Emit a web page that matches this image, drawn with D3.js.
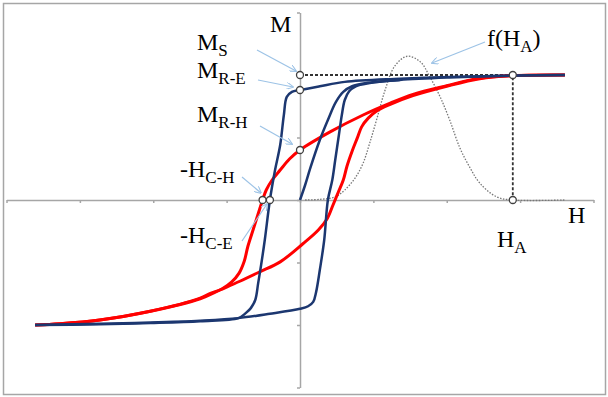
<!DOCTYPE html>
<html>
<head>
<meta charset="utf-8">
<script src="https://cdnjs.cloudflare.com/ajax/libs/d3/7.8.5/d3.min.js"></script>
<style>
  body { margin: 0; background: #fff; }
  text { font-family: 'Liberation Serif', 'DejaVu Serif', serif; fill: #000; }
</style>
</head>
<body>
<div id="viz"></div>
<script>
/*
 * Datos (H, M)
 */
var ticksH = [-4, -3, -2, -1, 0, 1, 2, 3, 4];
var ticksM = [-3, -2, -1, 0, 1, 2, 3];

//Ciclo facil (azul), rama descendente
var azulBajaH = [3.61, 2.90, 2.04, 1.36, 0.61, 0.27, 0, -0.11, -0.18, -0.22, -0.27, -0.34, -0.41, -0.48, -0.53, -0.57, -0.61, -0.67, -0.74, -0.84, -1.36, -2.04, -2.73, -3.61];
var azulBajaM = [2.0, 1.99, 1.97, 1.94, 1.89, 1.82, 1.76, 1.73, 1.65, 1.36, 0.88, 0.48, 0, -0.64, -1.04, -1.33, -1.6, -1.73, -1.81, -1.89, -1.94, -1.97, -1.99, -2.0];
//Ciclo facil (azul), rama ascendente
var azulSubeH = [-3.61, -2.73, -2.04, -1.36, -0.84, -0.41, 0, 0.11, 0.18, 0.22, 0.27, 0.33, 0.38, 0.44, 0.48, 0.53, 0.57, 0.61, 0.67, 0.76, 0.95, 1.36, 2.04, 2.90, 3.61];
var azulSubeM = [-2.0, -1.98, -1.96, -1.93, -1.89, -1.82, -1.74, -1.70, -1.63, -1.47, -1.12, -0.64, 0, 0.32, 0.64, 1.04, 1.36, 1.6, 1.74, 1.82, 1.87, 1.92, 1.96, 1.99, 2.0];
//Curva inicial (azul)
var azulInicialH = [0, 0.07, 0.14, 0.27, 0.38, 0.49, 0.59, 0.71, 0.89, 1.36];
var azulInicialM = [0, 0.24, 0.51, 0.96, 1.28, 1.57, 1.73, 1.82, 1.87, 1.92];

//Ciclo dificil (rojo), rama descendente
var rojoBajaH = [3.61, 2.90, 2.45, 2.0, 1.54, 1.23, 0.86, 0.41, 0, -0.14, -0.27, -0.38, -0.46, -0.51, -0.57, -0.64, -0.71, -0.76, -0.83, -0.93, -1.06, -1.23, -1.36, -2.04, -2.73, -3.27, -3.61];
var rojoBajaM = [2.0, 1.99, 1.95, 1.83, 1.69, 1.55, 1.36, 1.09, 0.8, 0.66, 0.48, 0.32, 0.16, 0, -0.22, -0.48, -0.74, -0.98, -1.17, -1.31, -1.42, -1.50, -1.57, -1.78, -1.92, -1.98, -2.0];
//Ciclo dificil (rojo), rama ascendente
var rojoSubeH = [-3.61, -3.27, -2.73, -2.04, -1.36, -1.09, -0.82, -0.55, -0.27, 0.04, 0.25, 0.37, 0.45, 0.52, 0.59, 0.64, 0.71, 0.78, 0.84, 0.93, 1.04, 1.23, 1.54, 2.0, 2.45, 2.90, 3.61];
var rojoSubeM = [-2.0, -1.98, -1.92, -1.78, -1.58, -1.44, -1.30, -1.15, -0.99, -0.70, -0.48, -0.30, -0.08, 0.12, 0.32, 0.54, 0.78, 0.99, 1.17, 1.31, 1.42, 1.53, 1.67, 1.82, 1.94, 1.99, 2.0];

//Distribucion f(HA) (punteada)
var distH = [0.07, 0.27, 0.48, 0.61, 0.75, 0.86, 0.95, 1.05, 1.16, 1.29, 1.46, 1.64, 1.77, 1.91, 2.04, 2.18, 2.32, 2.45, 2.68, 2.90, 3.61];
var distM = [0, 0.01, 0.05, 0.16, 0.35, 0.59, 0.91, 1.31, 1.76, 2.14, 2.30, 2.21, 1.97, 1.65, 1.28, 0.83, 0.51, 0.27, 0.05, 0, 0];

//Puntos marcados
var Ms = 2.0, MrE = 1.76, MrH = 0.8, HcH = -0.51, HcE = -0.41, HA = 2.90;

/*
 * Configuracion
 */
var width = 608, height = 397;

var svg = d3.select('#viz')
  .append('svg')
  .attr('width', width)
  .attr('height', height);

var x = d3.scaleLinear().domain([-4, 4]).range([6.5, 593.5]);
var y = d3.scaleLinear().domain([-3, 3]).range([387.5, 12.5]);

var defs = svg.append('defs');
defs.append('marker')
  .attr('id', 'flecha')
  .attr('viewBox', '0 0 10 10')
  .attr('refX', 9)
  .attr('refY', 5)
  .attr('markerWidth', 7)
  .attr('markerHeight', 7)
  .attr('markerUnits', 'userSpaceOnUse')
  .attr('orient', 'auto')
  .append('path')
  .attr('d', 'M0,0 L10,5 L0,10')
  .style('fill', 'none')
  .style('stroke', '#9dc3e6')
  .style('stroke-width', 1.5);

//Borde exterior
svg.append('rect')
  .attr('x', 3.5)
  .attr('y', 3.5)
  .attr('width', 602)
  .attr('height', 391)
  .style('fill', 'none')
  .style('stroke', '#a6a6a6')
  .style('stroke-width', 1.5);

//Ejes
var ejeH = svg.append('g')
  .attr('transform', 'translate(0,' + y(0) + ')')
  .call(d3.axisBottom(x).tickValues(ticksH).tickFormat('').tickSize(3).tickSizeOuter(0));
var ejeM = svg.append('g')
  .attr('transform', 'translate(' + x(0) + ',0)')
  .call(d3.axisLeft(y).tickValues(ticksM).tickFormat('').tickSize(3).tickSizeOuter(0));
svg.selectAll('.domain, .tick line')
  .style('stroke', '#a6a6a6')
  .style('stroke-width', 1.5);

function zip(hs, ms) {
  return hs.map(function(h, i) { return [h, ms[i]]; });
}

var linea = d3.line()
  .x(function(d) { return x(d[0]); })
  .y(function(d) { return y(d[1]); })
  .curve(d3.curveCatmullRom.alpha(0.5));

//Lineas de referencia (guiones)
svg.append('path')
  .attr('d', d3.line()([[x(0), y(Ms)], [x(HA), y(Ms)], [x(HA), y(0)]]))
  .style('fill', 'none')
  .style('stroke', '#333')
  .style('stroke-width', 1.8)
  .style('stroke-dasharray', '3,2');

//Distribucion punteada
svg.append('path')
  .attr('d', linea(zip(distH, distM)))
  .style('fill', 'none')
  .style('stroke', '#777')
  .style('stroke-width', 1.3)
  .style('stroke-dasharray', '1.5,1.5');

//Ciclo rojo
[[rojoBajaH, rojoBajaM], [rojoSubeH, rojoSubeM]].forEach(function(s) {
  svg.append('path')
    .attr('d', linea(zip(s[0], s[1])))
    .style('fill', 'none')
    .style('stroke', '#ff0000')
    .style('stroke-width', 3);
});

//Ciclo azul
[[azulBajaH, azulBajaM], [azulSubeH, azulSubeM], [azulInicialH, azulInicialM]].forEach(function(s) {
  svg.append('path')
    .attr('d', linea(zip(s[0], s[1])))
    .style('fill', 'none')
    .style('stroke', '#1c3770')
    .style('stroke-width', 2.5);
});

//Circulos de los puntos
var puntos = [[0, Ms], [0, MrE], [0, MrH], [HcH, 0], [HcE, 0], [HA, Ms], [HA, 0]];
svg.selectAll('circle.punto')
  .data(puntos)
  .enter()
  .append('circle')
  .attr('class', 'punto')
  .attr('cx', function(d) { return x(d[0]); })
  .attr('cy', function(d) { return y(d[1]); })
  .attr('r', 3.5)
  .style('fill', '#fff')
  .style('stroke', '#404040')
  .style('stroke-width', 1.3);

//Flechas celestes (desde la etiqueta hasta el punto)
var flechas = [
  [257, 50, 296, 71],
  [258, 80, 293, 87],
  [260, 126, 292, 144],
  [242, 177, 261, 193],
  [242, 241, 267, 204],
  [485, 42, 432, 63]
];
flechas.forEach(function(f) {
  svg.append('line')
    .attr('x1', f[0]).attr('y1', f[1])
    .attr('x2', f[2]).attr('y2', f[3])
    .style('stroke', '#9dc3e6')
    .style('stroke-width', 1.2)
    .attr('marker-end', 'url(#flecha)');
});

//Etiquetas con subindice
function etiqueta(px, py, base, sub, resto) {
  var t = svg.append('text')
    .attr('x', px)
    .attr('y', py)
    .style('font-size', '24px');
  t.append('tspan').text(base);
  if (sub) {
    t.append('tspan').attr('dy', 6).style('font-size', '17px').text(sub);
  }
  if (resto) {
    t.append('tspan').attr('dy', -6).text(resto);
  }
}

etiqueta(270, 32, 'M');
etiqueta(568, 223, 'H');
etiqueta(197, 50, 'M', 'S');
etiqueta(197, 78, 'M', 'R-E');
etiqueta(197, 122, 'M', 'R-H');
etiqueta(180, 177, '-H', 'C-H');
etiqueta(180, 243, '-H', 'C-E');
etiqueta(497, 247, 'H', 'A');
etiqueta(487, 46, 'f(H', 'A', ')');
</script>
</body>
</html>
